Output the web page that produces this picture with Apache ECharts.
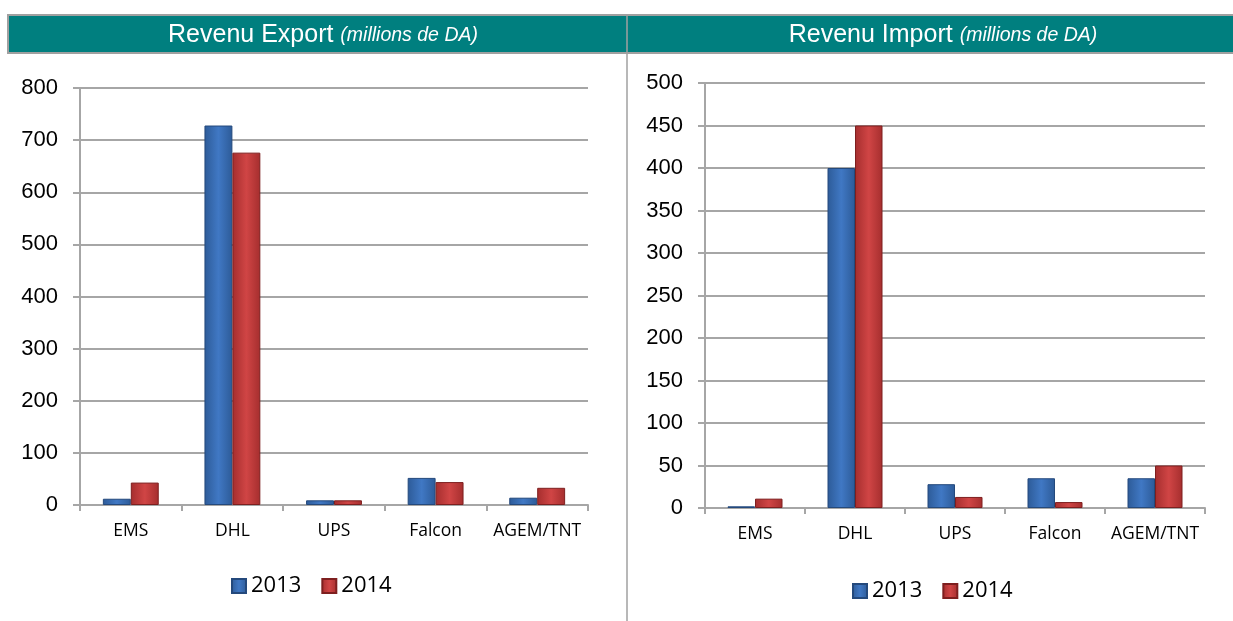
<!DOCTYPE html>
<html>
<head>
<meta charset="utf-8">
<script src="https://cdn.jsdelivr.net/npm/echarts@6/dist/echarts.min.js"></script>
<style>
  html, body { margin: 0; padding: 0; background: #fff; }
  #main { width: 1233px; height: 621px; }
</style>
</head>
<body>
<div id="main"></div>
<script>
// données
const categories = ['EMS', 'DHL', 'UPS', 'Falcon', 'AGEM/TNT']
const years = ['2013', '2014']
const export2013 = [12, 728, 9, 52, 14]
const export2014 = [43, 676, 9, 44, 33]
const import2013 = [2, 400, 28, 35, 35]
const import2014 = [11, 450, 13, 7, 50]

const chart = echarts.init(document.getElementById('main'))

const blue = new echarts.graphic.LinearGradient(0, 0, 1, 0, [
  { offset: 0, color: '#2d5b98' },
  { offset: 0.5, color: '#4078c4' },
  { offset: 1, color: '#2d5b98' }
])
const red = new echarts.graphic.LinearGradient(0, 0, 1, 0, [
  { offset: 0, color: '#a52e2e' },
  { offset: 0.5, color: '#d04545' },
  { offset: 1, color: '#a52e2e' }
])

const axisGrey = '#a6a6a6'

// axes communs
const xAxisBase = (gridIndex) => ({
  type: 'category',
  gridIndex: gridIndex,
  data: categories,
  axisLine: { lineStyle: { color: axisGrey, width: 2 } },
  axisTick: { show: true, length: 6, lineStyle: { color: axisGrey, width: 2 } },
  axisLabel: { interval: 0, color: '#000', fontFamily: 'Open Sans', fontSize: 17.5, margin: 17 }
})

const yAxisBase = (gridIndex, max, interval) => ({
  type: 'value',
  gridIndex: gridIndex,
  min: 0,
  max: max,
  interval: interval,
  axisLine: { show: true, lineStyle: { color: axisGrey, width: 2 } },
  axisTick: { show: true, length: 7, lineStyle: { color: axisGrey, width: 2 } },
  splitLine: { lineStyle: { color: axisGrey, width: 2 } },
  axisLabel: { color: '#000', fontFamily: 'Liberation Sans', fontSize: 22, margin: 22 }
})

const barSeries = (name, data, color, idx) => ({
  name: name,
  type: 'bar',
  xAxisIndex: idx,
  yAxisIndex: idx,
  data: data,
  barGap: '0%',
  barCategoryGap: '45%',
  itemStyle: {
    color: color,
    borderColor: name === '2013' ? '#24497c' : '#7e1f1f',
    borderWidth: 1
  }
})

const titleRich = {
  a: { color: '#fff', fontFamily: 'Liberation Sans', fontWeight: 'normal', fontSize: 25 },
  b: { color: '#fff', fontFamily: 'Liberation Sans', fontWeight: 'normal', fontSize: 19.5, fontStyle: 'italic' }
}

const legendBase = (left, top) => ({
  data: years,
  left: left,
  top: top,
  itemWidth: 14,
  itemHeight: 14,
  itemGap: 20,
  icon: 'rect',
  textStyle: { fontFamily: 'Open Sans', fontSize: 22, color: '#000' }
})

const option = {
  backgroundColor: '#fff',
  animation: false,
  graphic: [
    {
      type: 'rect',
      shape: { x: 8, y: 15, width: 1230, height: 38 },
      style: { fill: '#007f7f', stroke: '#a0a0a0', lineWidth: 2 }
    },
    {
      type: 'line',
      shape: { x1: 627, y1: 15, x2: 627, y2: 621 },
      style: { stroke: '#a0a0a0', lineWidth: 1.5 }
    }
  ],
  title: [
    {
      text: '{a|Revenu Export }{b|(millions de DA)}',
      left: 318,
      top: 18,
      textAlign: 'center',
      textStyle: { rich: titleRich }
    },
    {
      text: '{a|Revenu Import }{b|(millions de DA)}',
      left: 938,
      top: 18,
      textAlign: 'center',
      textStyle: { rich: titleRich }
    }
  ],
  legend: [legendBase(226, 570), legendBase(847, 575)],
  grid: [
    { left: 80, right: 645, top: 88, bottom: 116 },
    { left: 705, right: 28, top: 83, bottom: 113 }
  ],
  xAxis: [xAxisBase(0), xAxisBase(1)],
  yAxis: [yAxisBase(0, 800, 100), yAxisBase(1, 500, 50)],
  series: [
    barSeries('2013', export2013, blue, 0),
    barSeries('2014', export2014, red, 0),
    barSeries('2013', import2013, blue, 1),
    barSeries('2014', import2014, red, 1)
  ]
}

chart.setOption(option)
</script>
</body>
</html>
